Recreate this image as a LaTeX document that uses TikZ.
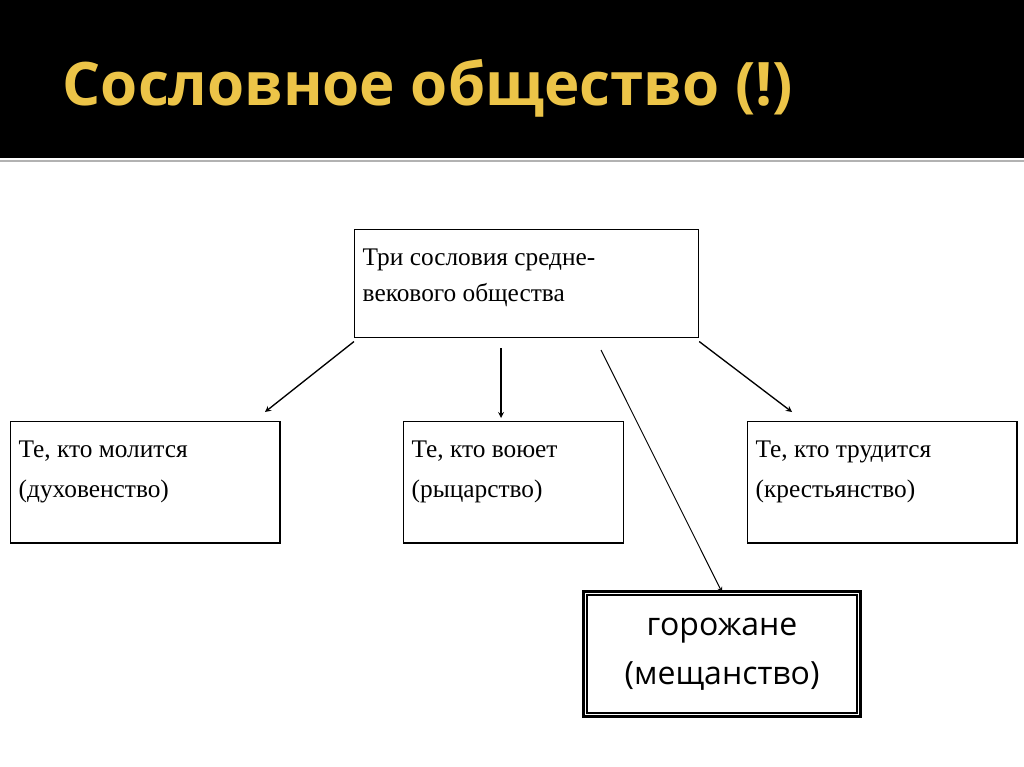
\documentclass[tikz,border=0pt]{standalone}
\usepackage{fontspec}
\setmainfont{Liberation Serif}
\newfontfamily\opensans{Open Sans}
\usetikzlibrary{positioning}
\definecolor{gold}{RGB}{236,196,72}
\tikzset{
  every node/.style={text=black, font=\fontsize{19}{25}\selectfont},
  estate/.style={draw=black, line width=0.9pt, anchor=north west, inner sep=0pt},
  label/.style={anchor=north west, align=left, font=\fontsize{19}{30}\selectfont},
  arrow/.style={draw=black, line width=1pt, ->, >=stealth}
}
\begin{document}
\begin{tikzpicture}[x=0.75pt, y=-0.75pt]
  \useasboundingbox (0,0) rectangle (1024,767);
  % Header
  \fill[black] (0,0) rectangle (1024,158);
  \draw[gray!60, line width=1pt] (0,161) -- (1024,161);
  \node (title) [anchor=west, text=gold, font=\opensans\bfseries\fontsize{45}{50}\selectfont] at (58,88) {Сословное общество (!)};

  % Nodes
  \node (root) [estate, minimum width=258pt, minimum height=81pt] at (354,229) {};
  \node (rootlabel) [label, font=\fontsize{19}{27}\selectfont] at (358,244) {Три сословия средне-\\векового общества};
  \node (clergy) [estate, minimum width=202pt, minimum height=91pt] at (10,421) {};
  \node (clergylabel) [label] at (14,436) {Те, кто молится\\(духовенство)};
  \node (knights) [estate, minimum width=165pt, minimum height=91pt] at (403,421) {};
  \node (knightslabel) [label] at (407,436) {Те, кто воюет\\(рыцарство)};
  \node (peasants) [estate, minimum width=202pt, minimum height=91pt] at (747,421) {};
  \node (peasantslabel) [label] at (751,436) {Те, кто трудится\\(крестьянство)};
  \node (burghers) [draw=black, line width=1.6pt, double, double distance=1.2pt, minimum width=205pt, minimum height=91pt, align=center, font=\opensans\fontsize{24}{37}\selectfont] at (722,654) {горожане\\(мещанство)};

  % Arrow ends
  \coordinate (toclergy) at (265,412);
  \coordinate (toknights) at (501,418);
  \coordinate (topeasants) at (792,412);

  \draw[arrow] ([yshift=-2.5pt]root.south west) -- (toclergy);
  \draw[arrow] (501,348) -- (toknights);
  \draw[arrow] ([yshift=-2.5pt]root.south east) -- (topeasants);
  \draw[draw=black, line width=0.7pt, ->, >=stealth] (601,350) -- (burghers.north);
\end{tikzpicture}
\end{document}
